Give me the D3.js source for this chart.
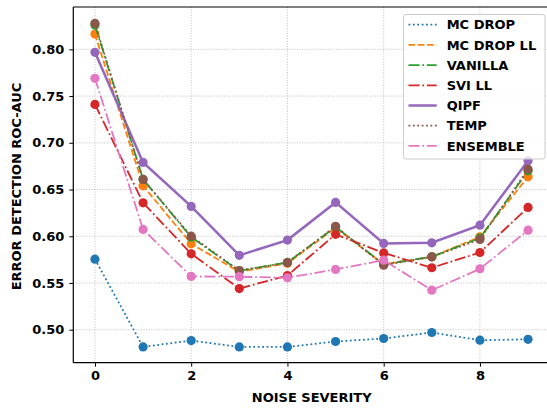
<!DOCTYPE html>
<html>
<head>
<meta charset="utf-8">
<script src="https://cdn.jsdelivr.net/npm/d3@7"></script>
<style>
  html, body { margin: 0; padding: 0; background: #fff; }
  svg { display: block; font-family: "DejaVu Sans", sans-serif; }
</style>
</head>
<body>
<svg id="chart" width="547" height="408"></svg>
<script>
// ---- data ----
const severity = [0, 1, 2, 3, 4, 5, 6, 7, 8, 9];
const mcDrop   = [0.5755, 0.4816, 0.4884, 0.4816, 0.4816, 0.4874, 0.4906, 0.4970, 0.4888, 0.4897];
const mcDropLL = [0.8164, 0.6540, 0.5919, 0.5619, 0.5710, 0.6090, 0.5700, 0.5780, 0.5994, 0.6636];
const vanilla  = [0.8260, 0.6610, 0.5990, 0.5630, 0.5720, 0.6100, 0.5700, 0.5780, 0.5980, 0.6700];
const sviLL    = [0.7411, 0.6358, 0.5812, 0.5440, 0.5580, 0.6021, 0.5822, 0.5663, 0.5826, 0.6308];
const qipf     = [0.7968, 0.6790, 0.6319, 0.5796, 0.5959, 0.6362, 0.5923, 0.5930, 0.6119, 0.6807];
const temp     = [0.8278, 0.6608, 0.6001, 0.5633, 0.5718, 0.6106, 0.5690, 0.5780, 0.5966, 0.6718];
const ensemble = [0.7690, 0.6073, 0.5570, 0.5567, 0.5556, 0.5645, 0.5744, 0.5423, 0.5651, 0.6065];
const seriesNames = ["MC DROP", "MC DROP LL", "VANILLA", "SVI LL", "QIPF", "TEMP", "ENSEMBLE"];
const xTicks = [0, 2, 4, 6, 8];
const yTicks = [0.50, 0.55, 0.60, 0.65, 0.70, 0.75, 0.80];

// ---- styles ----
const seriesValues = [mcDrop, mcDropLL, vanilla, sviLL, qipf, temp, ensemble];
const colors = ["#1f77b4", "#ff7f0e", "#2ca02c", "#d62728", "#9467bd", "#8c564b", "#e377c2"];
const dashes = ["1.8,2.6", "6.5,2.8", "11,2.8,1.8,2.8", "11,2.8,1.8,2.8", null, "1.8,2.6", "11,2.8,1.8,2.8"];
const widths = [1.8, 1.8, 1.8, 1.8, 2.5, 1.8, 1.8];
const FS = 13;

const svg = d3.select("#chart");
const L = 73.3, R = 549.7, T = 7, B = 362.7;
const x = d3.scaleLinear().domain([-0.45, 9.45]).range([L, R]);
const y = d3.scaleLinear().domain([0.4647, 0.8453]).range([B, T]);

// grid
const grid = svg.append("g");
grid.selectAll(".gx").data(xTicks).enter().append("line")
  .attr("x1", d => x(d)).attr("x2", d => x(d)).attr("y1", T).attr("y2", B)
  .attr("stroke", "#b0b0b0").attr("stroke-width", 0.8).attr("stroke-dasharray", "1,1.6");
grid.selectAll(".gy").data(yTicks).enter().append("line")
  .attr("x1", L).attr("x2", R).attr("y1", d => y(d)).attr("y2", d => y(d))
  .attr("stroke", "#b0b0b0").attr("stroke-width", 0.8).attr("stroke-dasharray", "1,1.6");

// series
const line = d3.line().x((d, i) => x(severity[i])).y(d => y(d));
seriesValues.forEach((vals, s) => {
  const g = svg.append("g");
  const p = g.append("path").datum(vals).attr("d", line)
    .attr("fill", "none").attr("stroke", colors[s]).attr("stroke-width", widths[s]);
  if (dashes[s]) p.attr("stroke-dasharray", dashes[s]);
  g.selectAll("circle").data(vals).enter().append("circle")
    .attr("cx", (d, i) => x(severity[i])).attr("cy", d => y(d)).attr("r", 4.6)
    .attr("fill", colors[s]);
});

// axes
const xAxis = d3.axisBottom(x).tickValues(xTicks).tickFormat(d3.format("d")).tickSizeOuter(0).tickSize(4).tickPadding(4);
const yAxis = d3.axisLeft(y).tickValues(yTicks).tickFormat(d3.format(".2f")).tickSizeOuter(0).tickSize(4).tickPadding(5);
const gx = svg.append("g").attr("transform", `translate(0,${B})`).call(xAxis);
const gy = svg.append("g").attr("transform", `translate(${L},0)`).call(yAxis);
[gx, gy].forEach(g => {
  g.select(".domain").remove();
  g.selectAll("text").attr("font-family", "DejaVu Sans").attr("font-weight", "bold")
    .attr("font-size", FS).attr("fill", "#000");
  g.selectAll(".tick line").attr("stroke", "#000").attr("stroke-width", 1);
});
// spines
svg.append("line").attr("x1", L).attr("x2", L).attr("y1", T).attr("y2", B).attr("stroke", "#000").attr("stroke-width", 1.2);
svg.append("line").attr("x1", L).attr("x2", R).attr("y1", B).attr("y2", B).attr("stroke", "#000").attr("stroke-width", 1.2);
svg.append("line").attr("x1", L).attr("x2", R).attr("y1", T).attr("y2", T).attr("stroke", "#000").attr("stroke-width", 1.2);
svg.append("line").attr("x1", R).attr("x2", R).attr("y1", T).attr("y2", B).attr("stroke", "#000").attr("stroke-width", 1.2);

// axis labels
svg.append("text").attr("x", 311.7).attr("y", 401.8).attr("text-anchor", "middle")
  .attr("font-weight", "bold").attr("font-size", FS).text("NOISE SEVERITY");
svg.append("text").attr("transform", "translate(20.8,186.5) rotate(-90)").attr("text-anchor", "middle")
  .attr("font-weight", "bold").attr("font-size", FS).text("ERROR DETECTION ROC-AUC");

// legend
const lg = svg.append("g");
lg.append("rect").attr("x", 403.5).attr("y", 14.5).attr("width", 141.5).attr("height", 144.5)
  .attr("rx", 2.5).attr("fill", "#fff").attr("fill-opacity", 0.8)
  .attr("stroke", "#cccccc").attr("stroke-width", 1);
seriesNames.forEach((name, s) => {
  const yy = 24.7 + s * 20.2;
  const l = lg.append("line").attr("x1", 408.5).attr("x2", 436.7).attr("y1", yy).attr("y2", yy)
    .attr("stroke", colors[s]).attr("stroke-width", widths[s]);
  if (dashes[s]) l.attr("stroke-dasharray", dashes[s]);
  lg.append("text").attr("x", 446.7).attr("y", yy + 4.7).attr("font-weight", "bold")
    .attr("font-size", FS).text(name);
});
</script>
</body>
</html>
